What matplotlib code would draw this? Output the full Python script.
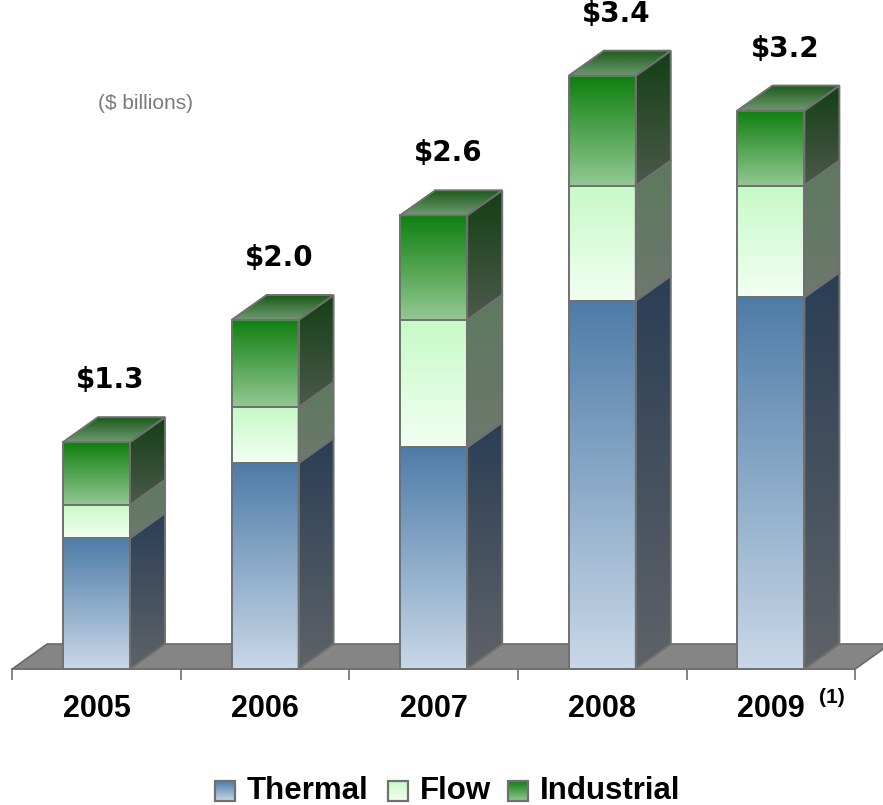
import numpy as np
import matplotlib
matplotlib.use("Agg")
import matplotlib.pyplot as plt
from matplotlib.patches import Polygon
from matplotlib.colors import LinearSegmentedColormap

# ---- data ($ billions) ----
years = ["2005", "2006", "2007", "2008", "2009"]
thermal = [0.75, 1.18, 1.27, 2.11, 2.13]
flow = [0.19, 0.32, 0.73, 0.66, 0.64]
industrial = [0.36, 0.50, 0.60, 0.63, 0.43]
totals = [1.3, 2.0, 2.6, 3.4, 3.2]
series_names = ["Thermal", "Flow", "Industrial"]
footnote = "(1)"
unit_label = "($ billions)"

# ---- geometry (pixels) ----
W_PX, H_PX = 883, 805
X0, XS = 96.5, 168.6      # pixel x of first category, pixels per category
Y0, YS = 669.0, 174.5     # pixel y of zero, pixels per $1B
BAR_W = 67 / XS
DX, DY = 35 / XS, 25 / YS  # 3-D depth offset

EDGE = "#707070"
LW = 1.4

styles = {
    "Thermal": dict(front=("#4e7ca8", "#c9d8e8"), side=("#2a3e56", "#5f6368")),
    "Flow": dict(front=("#c6fac6", "#f2fff2"), side=("#5c7a5e", "#6e786e")),
    "Industrial": dict(front=("#0f7f0f", "#93c993"), side=("#143f14", "#4b5a4b"),
                       top=("#1a5a1a", "#6f9a6f")),
}

fig = plt.figure(figsize=(W_PX / 100, H_PX / 100), dpi=100)
ax = fig.add_axes([0, 0, 1, 1])
xlim = ((0 - X0) / XS, (W_PX - X0) / XS)
ylim = ((Y0 - H_PX) / YS, Y0 / YS)


def gradient_poly(axis, verts, c_top, c_bot, z, edge=EDGE, lw=LW):
    verts = np.asarray(verts, dtype=float)
    x0, x1 = verts[:, 0].min(), verts[:, 0].max()
    y0, y1 = verts[:, 1].min(), verts[:, 1].max()
    cmap = LinearSegmentedColormap.from_list("g", [c_bot, c_top])
    grad = np.linspace(0, 1, 256).reshape(-1, 1)
    im = axis.imshow(grad, cmap=cmap, extent=[x0, x1, y0, y1], origin="lower",
                     aspect="auto", interpolation="bilinear", zorder=z)
    poly = Polygon(verts, closed=True, facecolor="none", edgecolor=edge,
                   lw=lw, zorder=z + 0.05, joinstyle="miter")
    axis.add_patch(poly)
    im.set_clip_path(poly)
    return poly


# floor
n = len(years)
floor = Polygon([(-0.5, 0), (n - 0.5, 0), (n - 0.5 + DX, DY), (-0.5 + DX, DY)],
                closed=True, facecolor="#858585", edgecolor="#6a6a6a", lw=1.2, zorder=1)
ax.add_patch(floor)
ax.plot([-0.5, n - 0.5], [0, 0], color="#707070", lw=1.2, zorder=1.1)
ax.vlines(np.arange(n + 1) - 0.5, -11 / YS, 0, color="#707070", lw=1.2, zorder=1.1)

# stacked 3-D bars
for i in range(n):
    left, right = i - BAR_W / 2, i + BAR_W / 2
    base = 0.0
    z = 2 + i
    for name, vals in zip(series_names, [thermal, flow, industrial]):
        top = base + vals[i]
        st = styles[name]
        gradient_poly(ax, [(left, base), (right, base), (right, top), (left, top)],
                      st["front"][0], st["front"][1], z)
        gradient_poly(ax, [(right, base), (right, top), (right + DX, top + DY),
                           (right + DX, base + DY)],
                      st["side"][0], st["side"][1], z)
        base = top
    st = styles["Industrial"]
    gradient_poly(ax, [(left, base), (right, base), (right + DX, base + DY),
                       (left + DX, base + DY)],
                  st["top"][0], st["top"][1], z + 0.2)
    ax.text(i + 14 / XS, totals[i] + 62 / YS, f"${totals[i]:.1f}",
            ha="center", va="center", fontsize=20, fontweight="bold",
            family="DejaVu Sans", color="#000000", zorder=20)
    ax.text(i, (Y0 - 709) / YS, years[i], ha="center", va="center",
            fontsize=22, fontweight="bold", family="Liberation Sans", zorder=20)

ax.text(n - 1 + 61 / XS, (Y0 - 697) / YS, footnote, ha="center", va="center",
        fontsize=15, fontweight="bold", family="Liberation Sans", zorder=20)
ax.text((146 - X0) / XS, (Y0 - 103) / YS, unit_label, ha="center", va="center",
        fontsize=15, color="#7a7a7a", family="Liberation Sans", zorder=20)

ax.set_xlim(*xlim)
ax.set_ylim(*ylim)
ax.axis("off")

# legend (pixel coordinates)
lax = fig.add_axes([0, 0, 1, 1])
lax.set_xlim(0, W_PX)
lax.set_ylim(H_PX, 0)
lax.axis("off")
leg_x = [215, 388, 508]
for lx, name in zip(leg_x, series_names):
    st = styles[name]
    sq = [(lx, 781), (lx + 20, 781), (lx + 20, 801), (lx, 801)]
    # y axis is inverted here, so top colour sits at the smaller pixel y
    gradient_poly(lax, sq, st["front"][1], st["front"][0], 5, lw=1.6)
    lax.text(lx + 32, 791, name, ha="left", va="center", fontsize=22.5,
             fontweight="bold", family="Liberation Sans")
lax.set_xlim(0, W_PX)
lax.set_ylim(H_PX, 0)

fig.savefig("out.png", dpi=100, facecolor="white")
